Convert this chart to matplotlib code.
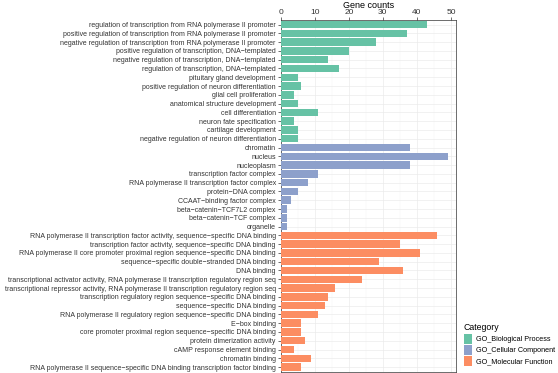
import matplotlib.pyplot as plt
from matplotlib.patches import Patch

plt.rcParams['font.family'] = ['Liberation Sans', 'DejaVu Sans']

# GO terms (top to bottom) and gene counts
bp_terms = ["regulation of transcription from RNA polymerase II promoter",
            "positive regulation of transcription from RNA polymerase II promoter",
            "negative regulation of transcription from RNA polymerase II promoter",
            "positive regulation of transcription, DNA\u2212templated",
            "negative regulation of transcription, DNA\u2212templated",
            "regulation of transcription, DNA\u2212templated",
            "pituitary gland development",
            "positive regulation of neuron differentiation",
            "glial cell proliferation",
            "anatomical structure development",
            "cell differentiation",
            "neuron fate specification",
            "cartilage development",
            "negative regulation of neuron differentiation"]
bp_counts = [43, 37, 28, 20, 14, 17, 5, 6, 4, 5, 11, 4, 5, 5]

cc_terms = ["chromatin", "nucleus", "nucleoplasm",
            "transcription factor complex",
            "RNA polymerase II transcription factor complex",
            "protein\u2212DNA complex",
            "CCAAT\u2212binding factor complex",
            "beta\u2212catenin\u2212TCF7L2 complex",
            "beta\u2212catenin\u2212TCF complex",
            "organelle"]
cc_counts = [38, 49, 38, 11, 8, 5, 3, 2, 2, 2]

mf_terms = ["RNA polymerase II transcription factor activity, sequence\u2212specific DNA binding",
            "transcription factor activity, sequence\u2212specific DNA binding",
            "RNA polymerase II core promoter proximal region sequence\u2212specific DNA binding",
            "sequence\u2212specific double\u2212stranded DNA binding",
            "DNA binding",
            "transcriptional activator activity, RNA polymerase II transcription regulatory region seq",
            "transcriptional repressor activity, RNA polymerase II transcription regulatory region seq",
            "transcription regulatory region sequence\u2212specific DNA binding",
            "sequence\u2212specific DNA binding",
            "RNA polymerase II regulatory region sequence\u2212specific DNA binding",
            "E\u2212box binding",
            "core promoter proximal region sequence\u2212specific DNA binding",
            "protein dimerization activity",
            "cAMP response element binding",
            "chromatin binding",
            "RNA polymerase II sequence\u2212specific DNA binding transcription factor binding"]
mf_counts = [46, 35, 41, 29, 36, 24, 16, 14, 13, 11, 6, 6, 7, 4, 9, 6]

groups = ["GO_Biological Process", "GO_Cellular Component", "GO_Molecular Function"]
colors = ["#66C2A5", "#8DA0CB", "#FC8D62"]

terms = bp_terms + cc_terms + mf_terms
counts = bp_counts + cc_counts + mf_counts
bar_colors = ([colors[0]] * len(bp_terms) + [colors[1]] * len(cc_terms)
              + [colors[2]] * len(mf_terms))

fig = plt.figure(figsize=(5.58, 3.73), dpi=100)
ax = fig.add_axes([0.503, 0.004, 0.314, 0.942])

ypos = list(range(len(terms)))
ax.barh(ypos, counts, height=0.85, color=bar_colors, zorder=3)
ax.set_ylim(len(terms) - 0.5, -0.5)
ax.set_xlim(0, max(counts) * 1.05)

# 坐标轴放在上方
ax.xaxis.set_ticks_position('top')
ax.xaxis.set_label_position('top')
ax.set_xticks([0, 10, 20, 30, 40, 50])
ax.set_xticks([5, 15, 25, 35, 45], minor=True)
ax.set_xlabel('Gene counts', fontsize=6.5, labelpad=0.5)
ax.set_yticks(ypos)
ax.set_yticklabels(terms, fontsize=5.0, color='#333333')
ax.tick_params(axis='x', labelsize=6.0, length=2, width=0.5, pad=1,
               color='#333333', labelcolor='#333333')
ax.tick_params(axis='x', which='minor', length=0)
ax.tick_params(axis='y', length=2, width=0.5, pad=1.5, color='#333333')

# 网格线
ax.grid(True, which='major', color='#EBEBEB', linewidth=0.5, zorder=0)
ax.grid(True, which='minor', axis='x', color='#F4F4F4', linewidth=0.3, zorder=0)
for s in ax.spines.values():
    s.set_color('#333333')
    s.set_linewidth(0.5)

# 图例
handles = [Patch(facecolor=c, edgecolor='none') for c in colors]
leg = fig.legend(handles, groups, loc='upper left', bbox_to_anchor=(457 / 558, 1 - 317 / 373),
                 frameon=False, title='Category', fontsize=5.2, title_fontsize=6.3,
                 handlelength=1.2, handleheight=1.6, labelspacing=0.25, handletextpad=0.5)
leg._legend_box.align = 'left'

fig.savefig('out.png', dpi=100)
